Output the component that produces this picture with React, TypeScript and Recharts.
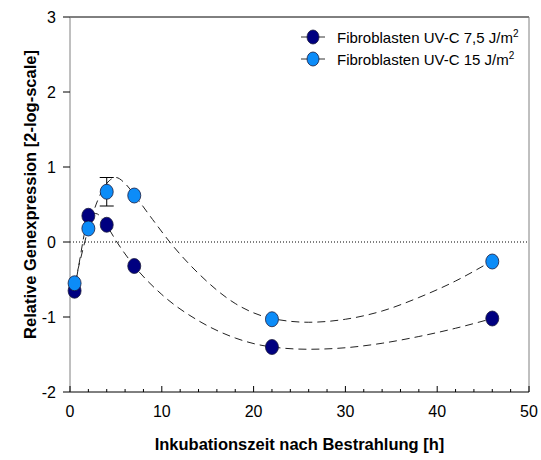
import {
  ComposedChart,
  ErrorBar,
  Legend,
  Line,
  ReferenceLine,
  Scatter,
  XAxis,
  YAxis,
} from "recharts";

// measured points
const hours = [0.5, 2, 4, 7, 22, 46];
const uv75 = [-0.65, 0.35, 0.23, -0.32, -1.4, -1.02];
const uv15 = [-0.55, 0.18, 0.67, 0.62, -1.03, -0.26];
const uv15Err = [0, 0, 0.19, 0, 0, 0];

// dashed fit curves
const fit75X = [0.5, 1, 2, 2.8, 4, 5, 7, 10, 14, 18, 22, 26, 30, 34, 38, 42, 46];
const fit75Y = [-0.65, -0.28, 0.3, 0.38, 0.22, 0.02, -0.32, -0.7, -1.05, -1.28, -1.4, -1.43, -1.41, -1.35, -1.26, -1.15, -1.02];
const fit15X = [0.5, 1, 2, 3, 4, 5, 6, 7, 9, 11, 14, 18, 22, 26, 30, 34, 38, 42, 46];
const fit15Y = [-0.55, -0.3, 0.18, 0.55, 0.78, 0.86, 0.78, 0.63, 0.3, -0.02, -0.42, -0.82, -1.02, -1.07, -1.03, -0.92, -0.74, -0.52, -0.25];

const xTicks = [0, 2, 4, 6, 8, 10, 12, 14, 16, 18, 20, 22, 24, 26, 28, 30, 32, 34, 36, 38, 40, 42, 44, 46, 48, 50];
const yTicks = [-2, -1, 0, 1, 2, 3];

const seriesNames = ["Fibroblasten UV-C 7,5 J/m", "Fibroblasten UV-C 15 J/m"];
const DARK = "#000080";
const LIGHT = "#0c8cf8";
const FONT = "'Liberation Sans', Arial, sans-serif";

const pts75 = hours.map((x, i) => ({ x, y: uv75[i] }));
const pts15 = hours.map((x, i) => ({ x, y: uv15[i], err: uv15Err[i] }));
const curve75 = fit75X.map((x, i) => ({ x, y: fit75Y[i] }));
const curve15 = fit15X.map((x, i) => ({ x, y: fit15Y[i] }));

const dot = (color: string) => (p: any) => (
  <ellipse cx={p.cx} cy={p.cy} rx={6.5} ry={7.5} fill={color} stroke="#1c1c3c" strokeWidth={0.8} />
);

const XTick = (props: any) => {
  const { x, y, payload } = props;
  const v = payload.value;
  const major = v % 10 === 0;
  return (
    <g>
      <line x1={x} x2={x} y1={y} y2={major ? y - 6 : y - 3} stroke="#000" />
      {major && (
        <text x={x} y={y + 19} textAnchor="middle" dominantBaseline="central" fontSize={16} fontFamily={FONT} fill="#000">
          {v}
        </text>
      )}
    </g>
  );
};

const LegendBox = () => (
  <div style={{ fontFamily: FONT, fontSize: 15, color: "#000" }}>
    {[DARK, LIGHT].map((c, i) => (
      <div key={i} style={{ display: "flex", alignItems: "center", height: 22 }}>
        <svg width={26} height={18} style={{ marginRight: 11 }}>
          <line x1={1} x2={25} y1={9} y2={9} stroke="#333" />
          <ellipse cx={13} cy={9} rx={6} ry={7} fill={c} stroke="#1c1c3c" strokeWidth={0.8} />
        </svg>
        <span>
          {seriesNames[i]}
          <sup style={{ fontSize: 10 }}>2</sup>
        </span>
      </div>
    ))}
  </div>
);

export default function App() {
  return (
    <div style={{ position: "absolute", left: 0, top: 0, background: "#fff" }}>
      <ComposedChart width={541} height={460} margin={{ top: 17, right: 12, bottom: 0, left: 10 }}>
        <XAxis
          type="number"
          dataKey="x"
          domain={[0, 50]}
          ticks={xTicks}
          interval={0}
          height={68}
          tickSize={0}
          tickMargin={0}
          tickLine={false}
          tick={<XTick />}
          axisLine={{ stroke: "#000" }}
          label={{
            value: "Inkubationszeit nach Bestrahlung [h]",
            position: "center",
            dy: 18,
            fontSize: 16.5,
            fontWeight: "bold",
            fontFamily: FONT,
            fill: "#000",
          }}
        />
        <YAxis
          type="number"
          domain={[-2, 3]}
          ticks={yTicks}
          width={60}
          tickSize={7}
          tickMargin={7}
          tickLine={{ stroke: "#000" }}
          axisLine={{ stroke: "#808080" }}
          tick={{ fontSize: 16, fontFamily: FONT, fill: "#000" }}
          label={{
            value: "Relative Genexpression [2-log-scale]",
            angle: -90,
            position: "center",
            dx: -10,
            dy: -10,
            fontSize: 16.5,
            fontWeight: "bold",
            fontFamily: FONT,
            fill: "#000",
          }}
        />
        <ReferenceLine y={0} stroke="#000" strokeDasharray="1 2" />
        <ReferenceLine y={3} stroke="#000" />
        <ReferenceLine x={50} stroke="#808080" />
        <Line
          data={curve75}
          dataKey="y"
          type="monotone"
          stroke="#222"
          strokeDasharray="8 5"
          dot={false}
          activeDot={false}
          isAnimationActive={false}
          legendType="none"
        />
        <Line
          data={curve15}
          dataKey="y"
          type="monotone"
          stroke="#222"
          strokeDasharray="8 5"
          dot={false}
          activeDot={false}
          isAnimationActive={false}
          legendType="none"
        />
        <Scatter data={pts75} dataKey="y" shape={dot(DARK)} isAnimationActive={false} />
        <Scatter data={pts15} dataKey="y" shape={dot(LIGHT)} isAnimationActive={false}>
          <ErrorBar dataKey="err" direction="y" width={7} stroke="#000" strokeWidth={1} />
        </Scatter>
        <Legend
          layout="horizontal"
          verticalAlign="middle"
          align="center"
          content={<LegendBox />}
          wrapperStyle={{ top: 26, left: 300, width: 240 }}
        />
      </ComposedChart>
    </div>
  );
}
